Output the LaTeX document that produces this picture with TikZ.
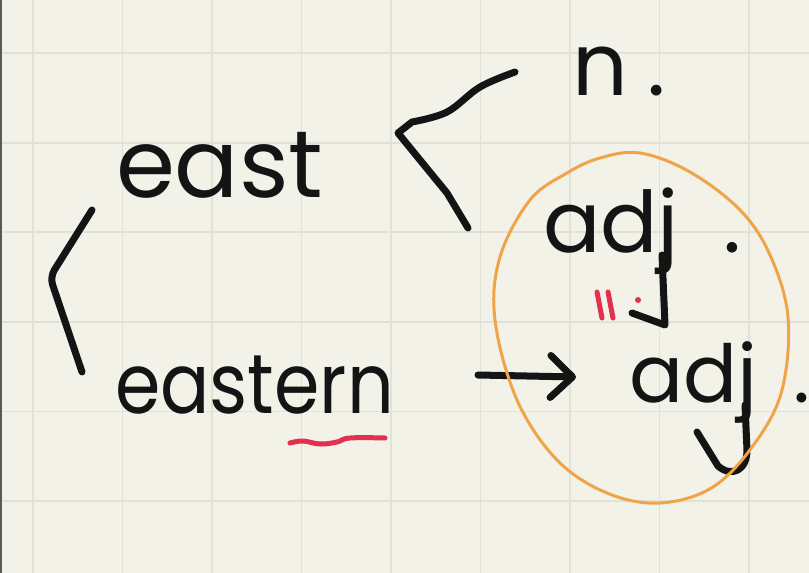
\documentclass[tikz,border=0pt]{standalone}
\usepackage{fontspec}
\newfontfamily\hand{Poppins}
\usetikzlibrary{arrows.meta}
\definecolor{paper}{HTML}{F3F2E8}
\definecolor{gridc}{HTML}{E2E1D5}
\definecolor{ink}{HTML}{141414}
\definecolor{orng}{HTML}{F0A448}
\definecolor{redink}{HTML}{E3304C}
\begin{document}
\begin{tikzpicture}[x=1pt,y=-1pt,
  inkline/.style={draw=ink, line width=7pt, line cap=round, line join=round},
  word/.style={anchor=base west, inner sep=0pt, outer sep=0pt, text=ink},
  gridline/.style={draw=gridc, line width=1.5pt},
  redline/.style={draw=redink, line width=5pt, line cap=round, line join=round}]
\fill[paper] (0,0) rectangle (809,573);
\useasboundingbox (0,0) rectangle (809,573);
\foreach \x in {33,122.5,212,301.5,391,480.5,570,659.5,749}
  \draw[gridline] (\x,0) -- (\x,573);
\foreach \y in {53,143,232,322,411.5,501}
  \draw[gridline] (0,\y) -- (809,\y);
\fill[black!65] (0,0) rectangle (2,573);

% words
\node[word, font=\hand\fontsize{95}{95}\selectfont] (east) at (116,197) {east};
\node[word, font=\hand\fontsize{84}{84}\selectfont] (eastern) at (115,413) {\scalebox{0.87}[1]{eastern}};
\node[word, font=\hand\fontsize{87}{87}\selectfont] (n) at (572,95) {n\hspace{20pt}.};
\node[word, font=\hand\fontsize{85}{85}\selectfont] (adjA) at (543,252) {adj\hspace{45pt}.};
\node[word, font=\hand\fontsize{80}{80}\selectfont] (adjB) at (629,402) {adj\hspace{36pt}.};

% j tails
\draw[inkline] (662,255) -- (665,325) -- (632,313);
\draw[inkline] (745,405) -- (747,450) .. controls (747,470) and (732,478) .. (718,466) -- (697,432);

% left bracket
\draw[inkline, rounded corners=8pt] (92,210) -- (50,277) -- (82,372);
% middle bracket
\draw[inkline] plot[smooth, tension=0.6] coordinates {(515,72) (480,87) (447,112) (412,122)}
  -- (398,133) -- (420,160) -- (447,193) -- (468,228);

% red equals mark
\draw[redline] (597,292) -- (602,318);
\draw[redline] (608,292) -- (613,318);
\fill[redink] (638,300) circle (3pt);

% red underline
\draw[redline] plot[smooth, tension=0.7] coordinates {(290,443) (303,441) (320,444) (337,442) (350,438) (385,438)};

% arrow
\coordinate (arrS) at (478,375);
\coordinate (arrE) at (576,377);
\draw[inkline, -{Straight Barb[length=22pt, width=42pt, line width=0pt 1, round]}] (arrS) -- (arrE);

% orange loop
\draw[orng, line width=3pt] plot[smooth cycle, tension=0.6] coordinates {(640,153) (690,172) (740,210) (770,255) (788,317) (782,390) (755,443) (713,487) (660,503) (607,493) (557,460) (517,400) (495,320) (500,257) (530,200) (567,173) (600,158)};
\end{tikzpicture}
\end{document}
